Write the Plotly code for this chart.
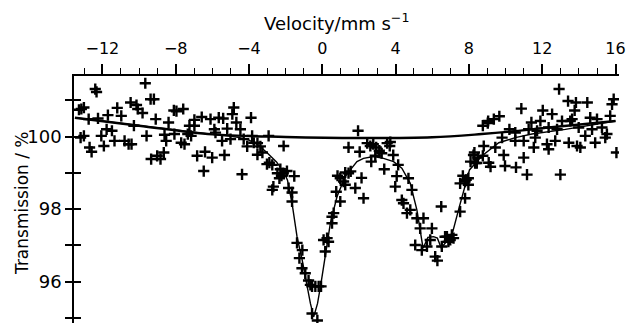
import plotly.graph_objects as go

# Measured spectrum points (velocity in mm/s, transmission in %)
velocity = [
    -13.28, -13.15, -13.01, -13.19, -13.01, -12.75, -12.70, -12.59, -12.39, -12.32,
    -12.24, -12.06, -11.92, -11.77, -11.70, -11.48, -11.34, -11.19, -10.97, -10.79,
    -10.57, -10.41, -10.46, -10.28, -10.14, -10.07, -9.81, -9.66, -9.59, -9.37,
    -9.19, -9.09, -9.34, -9.01, -8.83, -8.65, -8.52, -8.61, -8.39, -8.10,
    -7.96, -7.59, -8.07, -7.70, -7.52, -7.34, -7.16, -7.25, -6.98, -6.98,
    -6.83, -6.58, -6.47, -6.40, -6.10, -6.01, -5.89, -5.83, -5.65, -5.41,
    -5.47, -5.34, -5.19, -5.01, -4.83, -4.91, -4.69, -4.47, -4.38, -4.29,
    -4.10, -3.89, -3.83, -3.74, -3.54, -3.38, -3.54, -3.27, -3.02, -2.89,
    -2.93, -2.73, -2.67, -2.73, -2.45, -2.34, -2.23, -2.13, -1.93, -2.29,
    -2.11, -1.84, -1.65, -1.65, -1.53,
    -1.38, -1.09, -1.25, -1.11, -0.93, -0.75, -0.65, -0.56, -0.38, -0.20,
    -0.07, -0.56, -0.27, 0.07, 0.26, 0.34, 0.16, 0.53, 0.62, 0.53,
    0.76, 0.98, 0.98, 1.16, 1.25, 0.83, 1.43, 1.43, 1.25, 1.80, 1.55,
    1.95, 2.04, 2.14, 2.25, 2.45, 2.62, 2.78, 2.94, 3.11, 2.89,
    3.24, 2.67, 3.38, 3.54, 3.71, 3.68, 3.87, 4.14, 4.06, 3.98,
    4.34, 4.43, 4.70, 4.89, 4.80, 4.62, 5.16, 5.52, 5.34, 5.07,
    5.43, 5.71, 5.89, 5.98, 6.16, 6.28, 6.49, 6.52, 6.80, 6.98,
    7.16, 6.88, 6.70, 7.07, 7.52, 7.79, 7.52, 7.79, 7.97, 7.97,
    8.09, 8.25, 8.34, 7.67, 7.85,
    8.30, 8.49, 8.76, 8.43, 8.76, 9.03, 9.05, 9.36, 9.66, 8.81,
    9.08, 9.18, 9.44, 9.81, 9.90, 9.97, 10.21, 10.53, 10.53, 10.57,
    10.86, 10.99, 10.99, 11.17, 11.26, 11.41, 11.54, 11.62, 11.72, 11.90,
    12.03, 12.26, 12.35, 12.35, 12.54, 12.71, 12.81, 12.92, 12.99, 13.08,
    13.41, 13.45, 13.53, 13.63, 13.77, 13.84, 13.90, 13.99, 14.08, 14.35,
    14.46, 14.62, 14.72, 14.89, 14.99, 15.26, 15.44, 15.53, 15.71, 15.81,
    15.90, 16.05,
]
transmission = [
    100.74, 100.76, 100.80, 99.97, 100.02, 100.48, 99.70, 99.58, 101.31, 101.23,
    100.50, 100.02, 99.74, 100.20, 100.59, 100.16, 99.88, 100.79, 100.57, 99.88,
    99.79, 99.79, 100.94, 100.30, 100.87, 100.76, 100.65, 101.47, 100.02, 101.03,
    101.03, 100.48, 99.38, 99.47, 99.38, 99.56, 99.88, 100.05, 100.39, 100.72,
    100.70, 100.76, 100.07, 99.83, 99.79, 100.07, 100.02, 100.30, 100.30, 100.46,
    99.47, 100.54, 99.05, 99.58, 100.48, 99.42, 100.20, 100.11, 100.52, 100.50,
    99.88, 99.49, 100.22, 99.93, 100.80, 100.62, 100.39, 100.20, 98.96, 99.93,
    99.73, 100.52, 100.02, 99.83, 99.82, 99.73, 99.50, 99.56, 99.24, 99.28,
    100.02, 99.22, 98.62, 98.53, 98.99, 98.85, 98.92, 98.99, 99.05, 99.10,
    99.74, 98.58, 98.46, 98.21, 98.91,
    97.07, 96.87, 96.65, 96.37, 96.23, 96.03, 95.91, 95.87, 95.87, 95.87,
    95.87, 95.12, 94.93, 97.15, 97.20, 97.10, 96.83, 97.61, 97.89, 97.79,
    98.48, 98.21, 98.85, 98.76, 98.67, 98.92, 98.99, 99.70, 99.01, 98.58, 99.04,
    100.16, 99.58, 98.86, 98.30, 99.82, 99.74, 99.79, 99.70, 99.61, 99.47,
    99.54, 99.31, 99.10, 99.82, 99.85, 99.74, 99.49, 99.22, 98.91, 98.62,
    98.25, 98.16, 98.85, 98.53, 97.98, 97.89, 97.75, 97.75, 97.47, 97.01,
    96.87, 96.97, 97.15, 97.47, 96.69, 96.58, 98.07, 96.97, 97.24, 97.15,
    97.20, 97.10, 97.24, 97.29, 97.93, 98.30, 98.71, 98.76, 98.85, 98.67,
    99.31, 99.49, 99.27, 98.92, 98.81,
    99.56, 99.42, 99.47, 99.27, 100.30, 100.37, 100.43, 100.48, 100.56, 99.74,
    99.28, 99.17, 99.70, 99.97, 99.49, 99.19, 100.20, 100.11, 99.88, 99.15,
    100.77, 99.88, 99.42, 98.95, 100.20, 100.39, 99.70, 99.97, 100.16, 100.43,
    100.72, 99.79, 100.25, 99.65, 100.62, 99.88, 100.20, 101.31, 98.95, 100.43,
    100.98, 99.83, 100.43, 100.48, 100.72, 100.94, 99.74, 100.25, 99.70, 100.02,
    100.94, 100.52, 100.20, 99.83, 100.48, 100.25, 99.97, 100.07, 100.57, 100.89,
    101.03, 99.56,
]

# Baseline curve
base_v = [-13.5, -10.0, -6.0, -2.0, 2.0, 6.0, 8.7, 10.5, 12.35, 14.2, 16.0]
base_t = [100.52, 100.30, 100.06, 99.99, 99.96, 99.98, 100.07, 100.15, 100.25, 100.34, 100.43]

# Fitted spectrum curve
fit_v = [-13.5, -10.0, -8.0, -6.0, -5.0, -4.5, -4.0, -3.5, -3.0, -2.5, -2.1, -1.9,
         -1.65, -1.38, -1.1, -0.93, -0.65, -0.47, -0.26, -0.07, 0.16, 0.44, 0.8,
         1.25, 1.53, 1.89, 2.25, 2.8, 3.34, 3.89, 4.34, 4.8, 5.16, 5.34, 5.5,
         5.76, 6.07, 6.28, 6.49, 6.8, 7.12, 7.48, 7.76, 8.03, 8.72, 9.63, 10.53,
         11.44, 13.26, 14.5, 16.0]
fit_t = [100.52, 100.30, 100.17, 100.06, 100.01, 99.97, 99.90, 99.77, 99.55, 99.30, 99.02, 98.80,
         98.16, 97.24, 96.60, 96.14, 95.40, 95.03, 95.40, 95.96, 96.69, 97.61, 98.34,
         98.90, 99.08, 99.31, 99.40, 99.45, 99.40, 99.31, 99.13, 98.71, 97.98, 97.40, 96.92,
         97.22, 97.24, 97.20, 96.93, 97.12, 97.38, 98.07, 98.62, 99.08, 99.47, 99.83, 99.97,
         100.07, 100.20, 100.30, 100.43]

x_ticks = [-12, -8, -4, 0, 4, 8, 12, 16]
y_ticks = [96, 98, 100]

FONT = "DejaVu Sans"

fig = go.Figure()
fig.add_trace(go.Scatter(x=base_v, y=base_t, mode="lines", line=dict(color="black", width=2.4, shape="spline"),
                         hoverinfo="skip", showlegend=False))
fig.add_trace(go.Scatter(x=fit_v, y=fit_t, mode="lines", line=dict(color="black", width=1.4),
                         hoverinfo="skip", showlegend=False))
fig.add_trace(go.Scatter(x=velocity, y=transmission, mode="markers",
                         marker=dict(symbol="cross-thin", size=8, line=dict(color="black", width=2.4)),
                         showlegend=False))
# helper trace for the inward tick axis
fig.add_trace(go.Scatter(x=[0], y=[100], yaxis="y2", mode="markers", marker=dict(opacity=0),
                         hoverinfo="skip", showlegend=False))

fig.update_layout(
    width=626, height=323,
    margin=dict(l=74, r=7, t=76, b=0),
    paper_bgcolor="white", plot_bgcolor="white",
    font=dict(family=FONT, color="black"),
    xaxis=dict(
        side="top", range=[-13.55, 16.19], showgrid=False, zeroline=False,
        showline=True, linecolor="black", linewidth=2,
        tickmode="array", tickvals=x_ticks, ticktext=[str(v).replace("-", "−") for v in x_ticks],
        ticks="outside", ticklen=10, tickwidth=1.5, tickcolor="black",
        tickfont=dict(size=16, family=FONT), ticklabelstandoff=4,
        minor=dict(dtick=1, tick0=0, ticks="outside", ticklen=6, tickwidth=1.3, tickcolor="black"),
    ),
    yaxis=dict(
        range=[94.86, 101.67], showgrid=False, zeroline=False,
        showline=True, linecolor="black", linewidth=1.6,
        tickmode="array", tickvals=y_ticks, ticktext=[str(v) for v in y_ticks],
        ticks="outside", ticklen=7, tickwidth=1.5, tickcolor="black",
        tickfont=dict(size=18, family=FONT),
        minor=dict(dtick=1, tick0=0, ticks="outside", ticklen=7, tickwidth=1.5, tickcolor="black"),
    ),
    yaxis2=dict(
        overlaying="y", matches="y", side="left", range=[94.86, 101.67],
        showgrid=False, zeroline=False, showline=False, showticklabels=False,
        tickmode="array", tickvals=y_ticks,
        ticks="inside", ticklen=7, tickwidth=1.5, tickcolor="black",
        minor=dict(dtick=1, tick0=0, ticks="inside", ticklen=7, tickwidth=1.5, tickcolor="black"),
    ),
    annotations=[
        dict(text="Velocity/mm s<sup>−1</sup>", xref="paper", yref="paper",
             x=(336 - 74) / (619 - 74), y=1 + (76 - 22) / 247, xanchor="center", yanchor="middle",
             showarrow=False, font=dict(size=18, family=FONT)),
        dict(text="Transmission / %", xref="paper", yref="paper",
             x=(22 - 74) / (619 - 74), y=1 - (203 - 76) / 247, xanchor="center", yanchor="middle",
             textangle=-90, showarrow=False, font=dict(size=17, family=FONT)),
    ],
)

fig.write_html("out.html", config={"displayModeBar": False},
               post_script="document.body.style.margin='0';document.body.style.overflow='hidden';")
